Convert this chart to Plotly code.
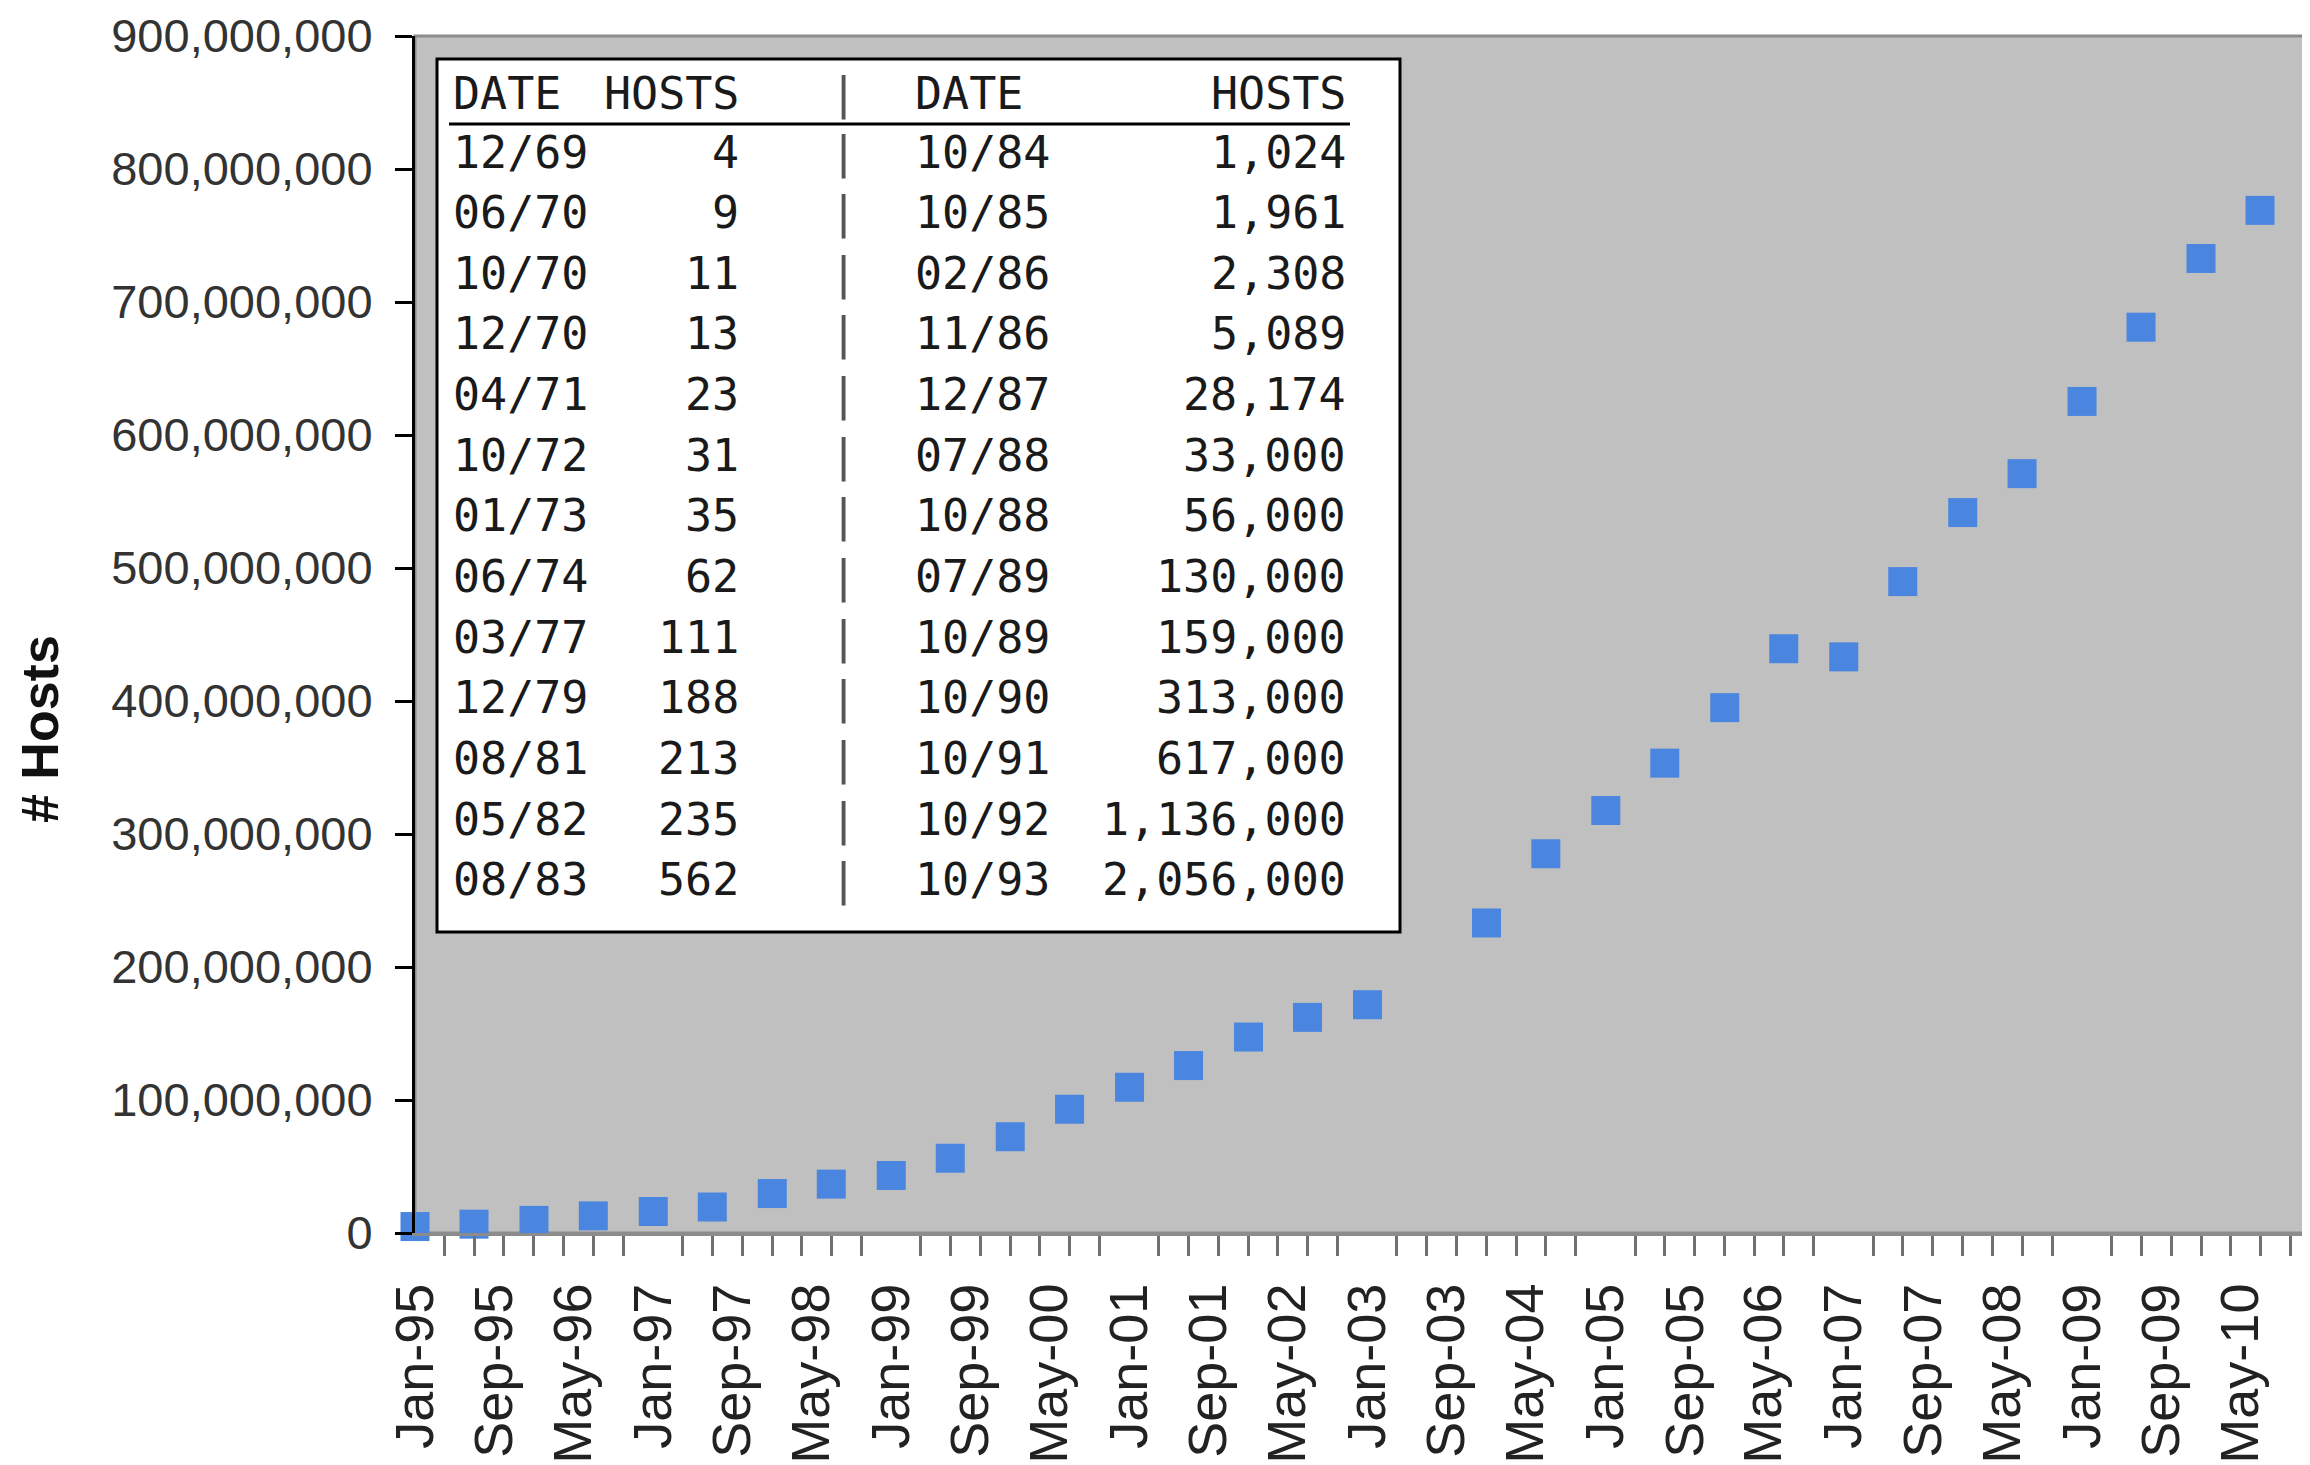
import plotly.graph_objects as go

# ---- data: semiannual host counts ----
survey_dates = [
    "1995-01-01", "1995-07-01", "1996-01-01", "1996-07-01", "1997-01-01",
    "1997-07-01", "1998-01-01", "1998-07-01", "1999-01-01", "1999-07-01",
    "2000-01-01", "2000-07-01", "2001-01-01", "2001-07-01", "2002-01-01",
    "2002-07-01", "2003-01-01", "2004-01-01", "2004-07-01", "2005-01-01",
    "2005-07-01", "2006-01-01", "2006-07-01", "2007-01-01", "2007-07-01",
    "2008-01-01", "2008-07-01", "2009-01-01", "2009-07-01", "2010-01-01",
    "2010-07-01",
]
host_counts = [
    4850000, 6640000, 9470000, 12880000, 16150000,
    19540000, 29670000, 36740000, 43230000, 56220000,
    72400000, 93050000, 109570000, 125890000, 147340000,
    162130000, 171640000, 233100000, 285140000, 317650000,
    353280000, 394990000, 439290000, 433190000, 489770000,
    541680000, 570940000, 625230000, 681060000, 732740000,
    768910000,
]

# ---- inset table data ----
table_dates_left = ["12/69", "06/70", "10/70", "12/70", "04/71", "10/72", "01/73",
                    "06/74", "03/77", "12/79", "08/81", "05/82", "08/83"]
table_hosts_left = [4, 9, 11, 13, 23, 31, 35, 62, 111, 188, 213, 235, 562]
table_dates_right = ["10/84", "10/85", "02/86", "11/86", "12/87", "07/88", "10/88",
                     "07/89", "10/89", "10/90", "10/91", "10/92", "10/93"]
table_hosts_right = [1024, 1961, 2308, 5089, 28174, 33000, 56000, 130000, 159000,
                     313000, 617000, 1136000, 2056000]
table_header = ["DATE", "HOSTS", "|", "DATE", "HOSTS"]

y_title = "# Hosts"

# ---- geometry (page is offset by the default body margin) ----
OFF = 8
W, H = 2310, 1465
L, R, T, B = 407, 13, 28, 240
PW, PH = W - L - R, H - T - B


def px(x):
    return (x - OFF - L) / PW


def py(y):
    return (H - B - (y - OFF)) / PH


fig = go.Figure()
fig.add_trace(go.Scatter(
    x=survey_dates, y=host_counts, mode="markers",
    marker=dict(symbol="square", size=29, color="#4A86E0"),
    cliponaxis=False, showlegend=False,
))

# plot frame
fig.add_shape(type="rect", xref="paper", yref="paper", x0=0, x1=1, y0=0, y1=1,
              line=dict(color="#8c8c8c", width=3), layer="below")

# inset table box
fig.add_shape(type="rect", xref="paper", yref="paper",
              x0=px(437), x1=px(1400), y0=py(932), y1=py(59),
              line=dict(color="black", width=3), fillcolor="white", layer="above")
fig.add_shape(type="line", xref="paper", yref="paper",
              x0=px(449), x1=px(1350), y0=py(124), y1=py(124),
              line=dict(color="black", width=3), layer="above")

mono = dict(family="DejaVu Sans Mono, Liberation Mono, monospace", size=45, color="#1a1a1a")
col_x = [451, 741, 843, 913, 1348]
col_anchor = ["left", "right", "center", "left", "right"]


def add_cell(text, col, ycenter, color="#1a1a1a"):
    f = dict(mono)
    f["color"] = color
    fig.add_annotation(text=text, xref="paper", yref="paper",
                       x=px(col_x[col]), y=py(ycenter), xanchor=col_anchor[col],
                       yanchor="middle", showarrow=False, font=f)


for c, h in enumerate(table_header):
    add_cell(h, c, 93, "#555555" if h == "|" else "#1a1a1a")

for i in range(len(table_dates_left)):
    yc = 152 + 60.65 * i
    add_cell(table_dates_left[i], 0, yc)
    add_cell(f"{table_hosts_left[i]:,}", 1, yc)
    add_cell("|", 2, yc, "#555555")
    add_cell(table_dates_right[i], 3, yc)
    add_cell(f"{table_hosts_right[i]:,}", 4, yc)

# y-axis title
fig.add_annotation(text=f"<b>{y_title}</b>", xref="paper", yref="paper",
                   x=px(40), y=py(729), textangle=-90, showarrow=False,
                   xanchor="center", yanchor="middle",
                   font=dict(family="Liberation Sans, Arial", size=52, color="#111111"))

fig.update_layout(
    width=W, height=H,
    margin=dict(l=L, r=R, t=T, b=B, pad=0, autoexpand=False),
    plot_bgcolor="#C0C0C0", paper_bgcolor="white",
    showlegend=False,
    xaxis=dict(
        type="date", range=["1995-01-01", "2010-11-16"], automargin=False,
        tick0="1995-01-01", dtick="M8", tickformat="%b-%y", tickangle=-90,
        ticks="outside", ticklen=22, tickwidth=3, tickcolor="rgba(0,0,0,0)",
        ticklabelstandoff=4,
        tickfont=dict(family="Liberation Sans, Arial", size=54, color="#222222"),
        showgrid=False, zeroline=False,
        showline=True, linecolor="#8c8c8c", linewidth=3,
        minor=dict(ticks="outside", ticklen=20, tickwidth=3, tickcolor="#707070",
                   dtick="M3", tick0="1995-01-01", showgrid=False),
    ),
    yaxis=dict(
        range=[0, 900e6], dtick=100e6, tick0=0, tickformat=",d", automargin=False,
        ticks="outside", ticklen=17, tickwidth=3, tickcolor="black",
        ticklabelstandoff=13,
        tickfont=dict(family="Liberation Sans, Arial", size=47, color="#333333"),
        showgrid=False, zeroline=False,
        showline=True, linecolor="black", linewidth=3,
    ),
)

fig.write_html("out.html")
